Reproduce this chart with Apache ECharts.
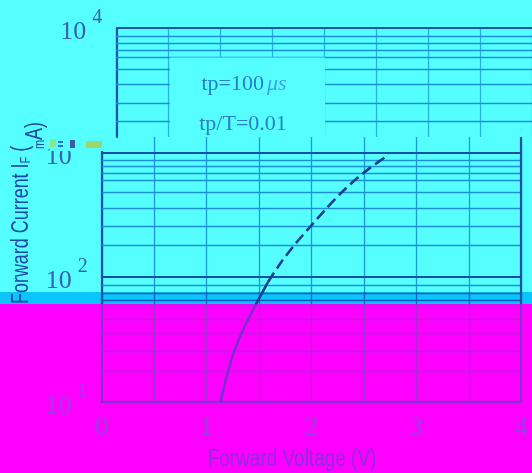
<!DOCTYPE html>
<html><head><meta charset="utf-8">
<script src="https://cdn.jsdelivr.net/npm/echarts@6/dist/echarts.min.js"></script>
<style>
html,body{margin:0;padding:0;width:532px;height:473px;overflow:hidden;}
#bg{position:absolute;left:0;top:0;width:532px;height:473px;
 background:linear-gradient(to bottom,#55FFFF 0px,#55FFFF 292px,#0BC4FA 292px,#0BC4FA 304px,#FF00FF 304px,#FF00FF 473px);}
#chart{position:absolute;left:0;top:0;width:532px;height:473px;}
</style></head><body>
<div id="bg"></div><div id="chart"></div>
<script>
// ---- data ----
const xTickValues = [0, 0.5, 1, 1.5, 2, 2.5, 3, 3.5, 4];
const yDecades = [10, 100, 1000, 10000];
const solidVoltage = [1.133, 1.182, 1.246, 1.333, 1.424, 1.518, 1.585];
const solidCurrent = [10, 14.9, 23.0, 35.4, 51.3, 72, 91.5];
const dashedVoltage = [1.585, 1.719, 1.852, 1.986, 2.129, 2.272, 2.415, 2.558, 2.734];
const dashedCurrent = [91.5, 135, 188, 253, 347, 466, 604, 755, 960];
const minorGridLow = [17.7, 25.2, 35.4, 46, 60, 65, 75, 86];
const minorGridMid = [180, 255, 360, 477, 596, 684, 772, 873];
const minorGridHigh = [1787, 2494, 3563, 4674, 5837, 6596, 7566, 8656];
const annotationLine1 = 'tp=100';
const annotationUnit = 'μs';
const annotationLine2 = 'tp/T=0.01';
const xAxisTitle = 'Forward Voltage (V)';
const yAxisTitleLower = 'Forward Current I{s|F} (';
const yAxisTitleUpper = '{s|m}A)';

// ---- styling ----
const H = 473;
function vgrad(top, band, bottom) {
  return {type:'linear', x:0, y:0, x2:0, y2:H, global:true, colorStops:[
    {offset:0,color:top},{offset:292/H,color:top},
    {offset:292/H,color:band},{offset:304/H,color:band},
    {offset:304/H,color:bottom},{offset:1,color:bottom}]};
}
const majorGrad = vgrad('#1B4FA3', '#1B4FA3', '#8A2ED0');
const minorGrad = vgrad('#1E8ED6', '#1458BE', '#9A34DA');
const vertGrad  = vgrad('#1A98E2', '#1462C4', '#9A34DA');
const curveGrad = vgrad('#1B3D92', '#1B3D92', '#7A2ED0');
const SERIF = "'Liberation Serif','Times New Roman',serif";
const SANS = "'Liberation Sans',Arial,sans-serif";
const blueText = '#3560B5', purpleText = '#9A3EE2';

function isDecade(v){ const l = Math.log10(v); return Math.abs(l - Math.round(l)) < 1e-6; }
function decadeLabel(v){
  if (!isDecade(v) || yDecades.indexOf(Math.round(v)) < 0) return '';
  const e = Math.round(Math.log10(v));
  return v < 50 ? '{bp|10}{sp|' + e + '}' : '{b|10}{s|' + e + '}';
}
const labelRich = {
  b:{fontFamily:SERIF,fontSize:26,color:blueText,padding:[8,0,0,0],lineHeight:26,verticalAlign:'middle'},
  s:{fontFamily:SERIF,fontSize:20,color:blueText,padding:[0,0,20,6],lineHeight:20,verticalAlign:'middle'},
  bp:{fontFamily:SERIF,fontSize:26,color:purpleText,padding:[8,0,0,0],lineHeight:26,verticalAlign:'middle'},
  sp:{fontFamily:SERIF,fontSize:20,color:purpleText,padding:[0,0,20,6],lineHeight:20,verticalAlign:'middle'}
};

function hLine(v, style){ return {yAxis:v, lineStyle:style}; }
const majorStyle = {color:majorGrad, width:2.2, type:'solid'};
const minorStyle = {color:minorGrad, width:1.3, type:'solid'};
const fragMajor = {color:'#1E55A8', width:2.2, type:'solid'};
const fragMinor = {color:'#1E8ED6', width:1.3, type:'solid'};

const mainLines = []
  .concat(yDecades.filter(v => v > 10 && v <= 1000).map(v => hLine(v, majorStyle)))
  .concat(minorGridLow.concat(minorGridMid).map(v => hLine(v, minorStyle)))
  .concat([{xAxis: xTickValues[xTickValues.length-1], lineStyle: majorStyle}]);
const fragLines = [hLine(yDecades[3], fragMajor)].concat(minorGridHigh.map(v => hLine(v, fragMinor)));

const chart = echarts.init(document.getElementById('chart'), null, {renderer:'canvas'});
const option = {
  backgroundColor:'transparent',
  animation:false,
  grid:[
    {left:101.8, right:10.8, top:137, bottom:71.3, containLabel:false},
    {left:116.3, width:419.4, top:28.2, height:108.8, containLabel:false}
  ],
  xAxis:[
    {type:'value', gridIndex:0, min:0, max:4, interval:0.5,
     axisLine:{show:true, onZero:false, lineStyle:{color:'#8A2ED0', width:2.4}},
     axisTick:{show:false},
     axisLabel:{margin:13, fontFamily:SERIF, fontSize:27, color:purpleText,
       formatter: v => (xTickValues.indexOf(v) >= 0 && Number.isInteger(v)) ? String(v) : ''},
     splitLine:{show:true, lineStyle:{color:vertGrad, width:1.3}}},
    {type:'value', gridIndex:1, min:0, max:4, interval:0.5,
     axisLine:{show:false}, axisTick:{show:false}, axisLabel:{show:false},
     splitLine:{show:true, lineStyle:{color:'#1FB4EC', width:1.3}}}
  ],
  yAxis:[
    {type:'log', logBase:10, gridIndex:0, min:10, max:1337,
     axisLine:{show:true, lineStyle:{color:majorGrad, width:2.2}},
     axisTick:{show:false}, splitLine:{show:false},
     axisLabel:{margin:14, formatter:decadeLabel, rich:labelRich}},
    {type:'log', logBase:10, gridIndex:1, min:1337, max:10000,
     axisLine:{show:true, lineStyle:{color:'#1E55A8', width:2.2}},
     axisTick:{show:false}, splitLine:{show:false},
     axisLabel:{margin:14, formatter:decadeLabel, rich:labelRich}}
  ],
  series:[
    {type:'line', xAxisIndex:0, yAxisIndex:0, symbol:'none', smooth:0.2,
     data: solidVoltage.map((v,i) => [v, solidCurrent[i]]),
     lineStyle:{color:curveGrad, width:2.6}, z:5,
     markLine:{silent:true, symbol:['none','none'], label:{show:false}, animation:false, data: mainLines}},
    {type:'line', xAxisIndex:0, yAxisIndex:0, symbol:'none', smooth:0.2,
     data: dashedVoltage.map((v,i) => [v, dashedCurrent[i]]),
     lineStyle:{color:'#1B3D92', width:2.6, type:[11,5]}, z:5},
    {type:'line', xAxisIndex:1, yAxisIndex:1, symbol:'none', data:[],
     markLine:{silent:true, symbol:['none','none'], label:{show:false}, animation:false, data: fragLines}}
  ],
  graphic:{elements:[
    {type:'rect', z:50, shape:{x:50, y:126, width:63, height:25}, style:{fill:'#55FFFF'}},
    {type:'rect', z:51, shape:{x:50, y:139, width:6, height:8}, style:{fill:'#8BE88A'}},
    {type:'rect', z:51, shape:{x:58, y:141, width:5, height:2}, style:{fill:'#2A6FD0'}},
    {type:'rect', z:51, shape:{x:58, y:145, width:5, height:2}, style:{fill:'#2A6FD0'}},
    {type:'rect', z:51, shape:{x:70, y:140, width:5, height:8}, style:{fill:'#3A5CB0'}},
    {type:'rect', z:51, shape:{x:86, y:141, width:16, height:7}, style:{fill:'#9FD86A'}},
    {type:'rect', z:50, shape:{x:169.8, y:57.5, width:155.2, height:79.5}, style:{fill:'#55FFFF'}},
    {type:'text', z:52, x:244, y:84, style:{text:annotationLine1 + '{u|' + annotationUnit + '}',
      fontFamily:SERIF, fontSize:22, fill:'#2C7DC6', align:'center', verticalAlign:'middle',
      rich:{u:{fontFamily:SERIF, fontSize:22, fontStyle:'italic', fill:'#3FA2E2', color:'#3FA2E2', padding:[0,0,0,3]}}}},
    {type:'text', z:52, x:243, y:124, style:{text:annotationLine2,
      fontFamily:SERIF, fontSize:22, fill:'#2C7DC6', align:'center', verticalAlign:'middle'}},
    {type:'text', z:52, x:22, y:304, rotation:Math.PI/2, scaleX:0.78, style:{text:yAxisTitleLower,
      fontFamily:SANS, fontSize:23, fill:'#2048A5', align:'left', verticalAlign:'middle',
      rich:{s:{fontFamily:SANS, fontSize:14, fill:'#2048A5', color:'#2048A5', verticalAlign:'bottom'}}}},
    {type:'text', z:52, x:36, y:149, rotation:Math.PI/2, scaleX:0.78, style:{text:yAxisTitleUpper,
      fontFamily:SANS, fontSize:23, fill:'#2048A5', align:'left', verticalAlign:'middle',
      rich:{s:{fontFamily:SANS, fontSize:14, fill:'#2048A5', color:'#2048A5', verticalAlign:'bottom'}}}},
    {type:'text', z:52, x:292, y:460, scaleX:0.825, style:{text:xAxisTitle,
      fontFamily:SANS, fontSize:23, fill:'#8C2EDC', align:'center', verticalAlign:'middle'}}
  ]}
};
chart.setOption(option);
</script>
</body></html>
